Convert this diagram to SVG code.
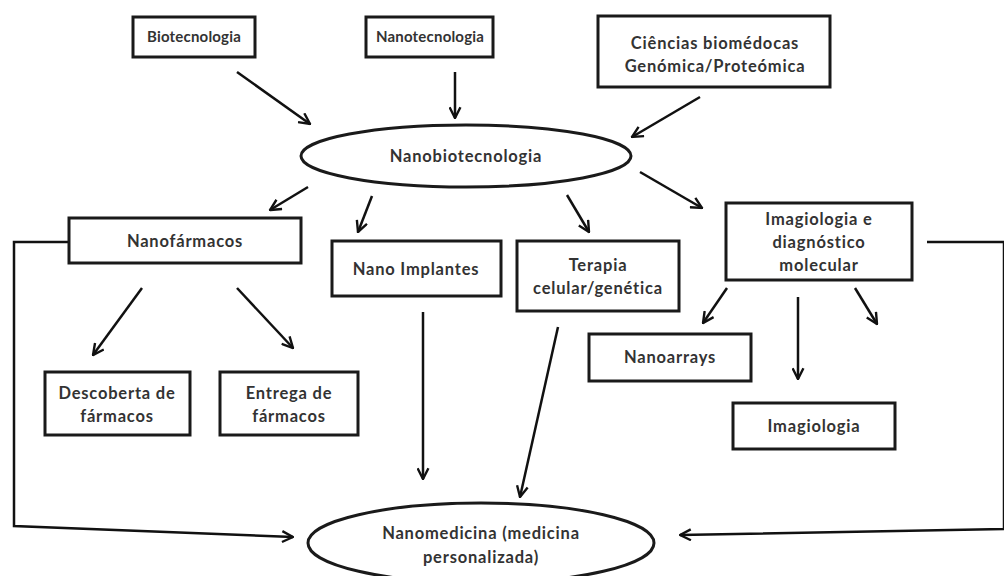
<svg xmlns="http://www.w3.org/2000/svg" width="1004" height="576" viewBox="0 0 1004 576">
<defs>
<marker id="arr" viewBox="0 0 12 12" refX="11" refY="6" markerWidth="13" markerHeight="13" markerUnits="userSpaceOnUse" orient="auto">
<path d="M1,1 L11,6 L1,11" fill="none" stroke="#111" stroke-width="2.2"/>
</marker>
<style>
.box{fill:#fff;stroke:#1a1a1a;stroke-width:3}
.t{font-family:Lato,"Open Sans","Liberation Sans",sans-serif;font-size:16.5px;letter-spacing:0.8px;font-weight:700;fill:#333;text-anchor:middle}
.s{font-size:15px;letter-spacing:0.2px}
.c{fill:none;stroke:#111;stroke-width:2.5;marker-end:url(#arr)}
</style>
</defs>
<rect width="1004" height="576" fill="#fff"/>
<g id="connectors">
<line class="c" x1="237" y1="72" x2="310" y2="124"/>
<line class="c" x1="455" y1="72" x2="455" y2="118"/>
<line class="c" x1="700" y1="97" x2="632" y2="137"/>
<line class="c" x1="308" y1="187" x2="270" y2="210"/>
<line class="c" x1="372" y1="196" x2="358" y2="232"/>
<line class="c" x1="567" y1="195" x2="589" y2="232"/>
<line class="c" x1="640" y1="172" x2="702" y2="208"/>
<line class="c" x1="142" y1="288" x2="93" y2="355"/>
<line class="c" x1="237" y1="288" x2="293" y2="348"/>
<line class="c" x1="727" y1="288" x2="703" y2="323"/>
<line class="c" x1="798" y1="297" x2="798" y2="379"/>
<line class="c" x1="855" y1="288" x2="877" y2="324"/>
<line class="c" x1="423" y1="312" x2="423" y2="479"/>
<line class="c" x1="558" y1="327" x2="520" y2="497"/>
<polyline class="c" points="69,242 14,242 14,526 293,537"/>
<polyline class="c" points="927,242 1004,242 1004,529 680,535"/>
</g>
<g id="biotecnologia">
<rect class="box" x="133" y="17" width="122" height="40"/>
<text class="t s" x="194" y="42">Biotecnologia</text>
</g>
<g id="nanotecnologia">
<rect class="box" x="366" y="17" width="127" height="40"/>
<text class="t s" x="430" y="42">Nanotecnologia</text>
</g>
<g id="ciencias">
<rect class="box" x="598" y="16" width="232" height="71"/>
<text class="t" x="715" y="49">Ciências biomédocas</text>
<text class="t" x="715" y="72">Genómica/Proteómica</text>
</g>
<g id="nanobiotecnologia">
<ellipse class="box" cx="466" cy="156" rx="165" ry="31"/>
<text class="t" x="466" y="162">Nanobiotecnologia</text>
</g>
<g id="nanofarmacos">
<rect class="box" x="69" y="218" width="232" height="45"/>
<text class="t" x="185" y="247">Nanofármacos</text>
</g>
<g id="nanoimplantes">
<rect class="box" x="332" y="241" width="169" height="55"/>
<text class="t" x="416" y="275">Nano Implantes</text>
</g>
<g id="terapia">
<rect class="box" x="517" y="241" width="162" height="70"/>
<text class="t" x="598" y="271">Terapia</text>
<text class="t" x="598" y="294">celular/genética</text>
</g>
<g id="imagiologia-diagnostico">
<rect class="box" x="726" y="203" width="186" height="77"/>
<text class="t" x="819" y="225">Imagiologia e</text>
<text class="t" x="819" y="248">diagnóstico</text>
<text class="t" x="819" y="271">molecular</text>
</g>
<g id="nanoarrays">
<rect class="box" x="589" y="334" width="162" height="47"/>
<text class="t" x="670" y="363">Nanoarrays</text>
</g>
<g id="imagiologia">
<rect class="box" x="733" y="403" width="162" height="46"/>
<text class="t" x="814" y="432">Imagiologia</text>
</g>
<g id="descoberta">
<rect class="box" x="45" y="372" width="145" height="63"/>
<text class="t" x="117" y="399">Descoberta de</text>
<text class="t" x="117" y="422">fármacos</text>
</g>
<g id="entrega">
<rect class="box" x="220" y="372" width="138" height="63"/>
<text class="t" x="289" y="399">Entrega de</text>
<text class="t" x="289" y="422">fármacos</text>
</g>
<g id="nanomedicina">
<ellipse class="box" cx="481" cy="543" rx="173" ry="40"/>
<text class="t" x="481" y="539">Nanomedicina (medicina</text>
<text class="t" x="481" y="563">personalizada)</text>
</g>
</svg>
